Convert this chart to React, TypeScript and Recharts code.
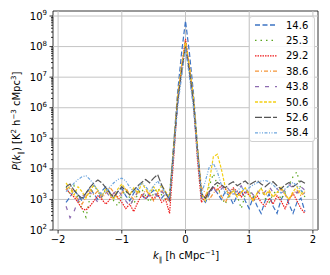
import React from 'react';
import { LineChart, Line, XAxis, YAxis, ReferenceLine, ReferenceArea } from 'recharts';

// k_parallel sample points (h cMpc^-1)
const kValues = [
  -1.875, -1.8125, -1.75, -1.6875, -1.625, -1.5625, -1.5, -1.4375, -1.375, -1.3125,
  -1.25, -1.1875, -1.125, -1.0625, -1.0, -0.9375, -0.875, -0.8125, -0.75, -0.6875,
  -0.625, -0.5625, -0.5, -0.4375, -0.375, -0.3125, -0.25, -0.1875, -0.125, -0.0625,
  0, 0.0625, 0.125, 0.1875, 0.25, 0.3125, 0.375, 0.4375, 0.5, 0.5625,
  0.625, 0.6875, 0.75, 0.8125, 0.875, 0.9375, 1.0, 1.0625, 1.125, 1.1875,
  1.25, 1.3125, 1.375, 1.4375, 1.5, 1.5625, 1.625, 1.6875, 1.75, 1.8125, 1.875,
];

const p146 = [
  8e2, 1.2e3, 2.0e3, 1.4e3, 9e2, 1.6e3, 2.4e3, 1.5e3, 1.0e3, 1.9e3,
  2.6e3, 1.7e3, 1.1e3, 1.8e3, 2.3e3, 1.3e3, 9e2, 1.6e3, 2.2e3, 1.4e3,
  1.0e3, 1.5e3, 2.0e3, 1.3e3, 1.1e3, 1.6e3, 1.0e3, 6e4, 3e6, 6e7,
  7e8, 6e7, 3e6, 6e4, 1.2e3, 8e2, 1.5e3, 2.5e3, 1.6e3, 1.0e3,
  1.8e3, 1.3e3, 7e2, 1.4e3, 2.0e3, 9e2, 5e2, 1.2e3, 6e2, 3.5e2,
  9e2, 1.5e3, 6e2, 3.5e2, 1.0e3, 1.6e3, 7e2, 3.5e2, 8e2, 1.1e3, 4e2,
];
const p253 = [
  2.5e3, 1.5e3, 2.8e3, 1.0e3, 5e2, 2.6e2, 1.2e3, 3.0e3, 1.8e3, 1.2e3,
  2.2e3, 1.5e3, 9e2, 6e2, 1.4e3, 2.0e3, 1.1e3, 7e2, 1.5e3, 2.2e3,
  1.3e3, 8e2, 1.6e3, 2.4e3, 1.4e3, 1.0e3, 1.8e3, 3e4, 1.5e6, 1.5e7,
  1.6e8, 1.5e7, 1.5e6, 3e4, 1.4e3, 1.0e3, 2.8e3, 7e3, 3.0e3, 1.2e3,
  7e2, 1.5e3, 2.2e3, 1.3e3, 5e2, 1.4e3, 2.0e3, 1.2e3, 1.6e3, 2.3e3,
  1.1e3, 8e2, 1.5e3, 2.0e3, 1.0e3, 1.8e3, 3.0e3, 5.5e3, 8e3, 2.0e3, 1.2e3,
];
const p292 = [
  2.2e3, 1.6e3, 1.2e3, 8e2, 5e2, 4.5e2, 6e2, 9e2, 1.3e3, 1.0e3,
  7e2, 1.0e3, 1.6e3, 1.2e3, 8e2, 5e2, 7e2, 4e2, 8e2, 1.4e3,
  1.1e3, 1.5e3, 1.0e3, 1.6e3, 8e2, 1.0e3, 3.5e2, 2e4, 1.5e6, 2e7,
  1.8e8, 2e7, 1.5e6, 2e4, 8e2, 1.3e3, 1.8e3, 2.5e3, 2.0e3, 2.8e3,
  2.2e3, 1.6e3, 2.4e3, 1.8e3, 1.2e3, 1.8e3, 1.4e3, 9e2, 1.3e3, 8e2,
  6e2, 1.1e3, 7e2, 1.3e3, 9e2, 5e2, 1.0e3, 1.6e3, 9e2, 5e2, 3.5e2,
];
const p386 = [
  2.0e3, 2.8e3, 1.5e3, 1.0e3, 7e2, 1.2e3, 2.2e3, 1.4e3, 1.9e3, 1.1e3,
  1.6e3, 2.5e3, 1.7e3, 1.1e3, 1.6e3, 2.4e3, 1.4e3, 1.0e3, 1.9e3, 1.3e3,
  2.0e3, 1.4e3, 9e2, 1.5e3, 2.1e3, 1.2e3, 8e2, 4e4, 2e6, 2e7,
  1.6e8, 2e7, 2e6, 4e4, 2.5e3, 1.6e3, 1.0e3, 1.6e3, 2.2e3, 1.3e3,
  8e2, 1.4e3, 2.0e3, 1.2e3, 1.7e3, 2.3e3, 1.5e3, 1.0e3, 1.6e3, 2.1e3,
  1.3e3, 1.8e3, 1.2e3, 1.6e3, 2.2e3, 1.4e3, 1.0e3, 1.5e3, 2.0e3, 1.3e3, 1.7e3,
];
const p438 = [
  6e2, 2.5e2, 4e2, 9e2, 1.5e3, 1.1e3, 1.7e3, 1.2e3, 8e2, 1.3e3,
  1.9e3, 1.2e3, 1.6e3, 2.1e3, 1.3e3, 9e2, 6e2, 1.1e3, 1.7e3, 1.2e3,
  1.9e3, 1.3e3, 1.7e3, 1.2e3, 1.8e3, 1.4e3, 9e2, 3e4, 1.2e6, 1.2e7,
  1.1e8, 1.2e7, 1.2e6, 3e4, 1.5e3, 1.1e3, 1.8e3, 2.4e3, 1.6e3, 2.2e3,
  3.0e3, 2.0e3, 1.4e3, 2.2e3, 2.8e3, 1.6e3, 2.2e3, 1.4e3, 2.0e3, 1.3e3,
  1.8e3, 2.6e3, 1.7e3, 2.3e3, 1.5e3, 2.1e3, 3.0e3, 2.4e3, 1.6e3, 2.6e3, 2.0e3,
];
const p506 = [
  3.5e3, 2.2e3, 1.4e3, 2.6e3, 1.8e3, 1.1e3, 1.9e3, 3.0e3, 2.0e3, 1.3e3,
  2.3e3, 1.5e3, 1.0e3, 2.2e3, 3.2e3, 2.1e3, 1.4e3, 2.4e3, 1.6e3, 3.4e3,
  2.2e3, 1.5e3, 2.6e3, 1.7e3, 2.9e3, 1.8e3, 1.2e3, 5e4, 2e6, 2.2e7,
  1.3e8, 2.2e7, 2e6, 5e4, 1.6e3, 9e2, 4e3, 2.5e4, 3e4, 1.0e4,
  2.5e3, 1.3e3, 2.0e3, 1.2e3, 1.7e3, 2.4e3, 1.4e3, 9e2, 1.6e3, 2.3e3,
  1.4e3, 2.0e3, 1.2e3, 1.7e3, 2.5e3, 1.5e3, 1.0e3, 1.8e3, 2.6e3, 1.5e3, 1.9e3,
];
const p526 = [
  2.6e3, 3.2e3, 2.0e3, 1.4e3, 1.1e3, 1.6e3, 2.5e3, 3.5e3, 4.3e3, 3.5e3,
  2.4e3, 1.6e3, 1.2e3, 1.8e3, 2.6e3, 1.9e3, 1.4e3, 2.0e3, 2.8e3, 3.6e3,
  4.5e3, 3.5e3, 5.0e3, 6.5e3, 3.0e3, 1.6e3, 1.0e3, 4e4, 1.5e6, 1.5e7,
  1.0e8, 1.5e7, 1.5e6, 4e4, 1.6e3, 1.1e3, 1.8e3, 2.8e3, 3.6e3, 3.0e3,
  2.4e3, 3.2e3, 3.8e3, 2.8e3, 3.4e3, 4.0e3, 3.0e3, 3.6e3, 4.2e3, 3.2e3,
  2.6e3, 3.4e3, 3.8e3, 2.8e3, 2.2e3, 3.0e3, 3.6e3, 2.6e3, 3.2e3, 4.0e3, 3.4e3,
];
const p584 = [
  1.8e3, 2.4e3, 3.4e3, 4.5e3, 5.5e3, 6e3, 4.5e3, 3.0e3, 2.0e3, 1.4e3,
  1.8e3, 2.6e3, 3.5e3, 4.5e3, 5e3, 4e3, 2.5e3, 1.8e3, 2.4e3, 3.5e3,
  2.6e3, 1.8e3, 2.8e3, 4e3, 2.5e3, 1.6e3, 1.2e3, 3e4, 1.0e6, 1.0e7,
  9e7, 1.0e7, 1.0e6, 3e4, 1.5e3, 4e3, 1.2e4, 1.5e4, 8e3, 3e3,
  1.6e3, 2.2e3, 1.4e3, 1.9e3, 2.6e3, 1.8e3, 2.4e3, 3.0e3, 3.5e3, 4.0e3,
  4.2e3, 3.8e3, 3.0e3, 2.2e3, 1.6e3, 2.2e3, 2.8e3, 3.6e3, 2.8e3, 2.0e3, 1.5e3,
];

const seriesNames = ['14.6', '25.3', '29.2', '38.6', '43.8', '50.6', '52.6', '58.4'];
const seriesValues = [p146, p253, p292, p386, p438, p506, p526, p584];
const seriesColors = ['#3d74c4', '#5aa51e', '#ee1c1c', '#f59538', '#8d6bb0', '#f3cf14', '#555555', '#6ea6de'];
const seriesDash = ['5 2.5', '1.5 4', '1.5 1', '4 2 1 2', '4 6', '3 1.5', '7 2', '3 1.5 1 1.5 1 1.5'];

const xTicks = [-2, -1, 0, 1, 2];
const yMajorTicks = [1e2, 1e3, 1e4, 1e5, 1e6, 1e7, 1e8, 1e9];
const yMinorTicks: number[] = [];
yMajorTicks.slice(0, -1).forEach((d) => {
  for (let m = 2; m <= 9; m++) yMinorTicks.push(d * m);
});

const data = kValues.map((k, i) => {
  const row: Record<string, number> = { k };
  seriesNames.forEach((name, s) => {
    row[name] = seriesValues[s][i];
  });
  return row;
});

const FONT = '"DejaVu Sans", sans-serif';
const PLOT_LEFT = 53;

const LogTick = (props: any) => {
  const { y, payload } = props;
  const v = payload.value;
  const e = Math.round(Math.log10(v));
  const major = Math.abs(Math.log10(v) - e) < 1e-6;
  return (
    <g>
      <line x1={PLOT_LEFT} x2={major ? PLOT_LEFT - 3.5 : PLOT_LEFT - 2} y1={y} y2={y} stroke="#000" strokeWidth={0.8} />
      {major && (
        <text x={PLOT_LEFT - 6} y={y + 3.5} textAnchor="end" fontSize={10} fill="#000" style={{ fontFamily: FONT }}>
          10<tspan dy={-4.5} fontSize={7}>{e}</tspan>
        </text>
      )}
    </g>
  );
};

const Legend = () => (
  <div
    style={{
      position: 'absolute',
      left: 249,
      top: 16,
      width: 66,
      height: 126,
      border: '1px solid #d0d0d0',
      borderRadius: 3,
      background: 'rgba(255,255,255,0.85)',
      boxSizing: 'border-box',
    }}
  >
    <svg width={66} height={126} style={{ position: 'absolute', left: -1, top: -1 }}>
      {seriesNames.map((name, i) => {
        const y = 9 + i * 15.4;
        return (
          <g key={name}>
            <line x1={6} x2={28} y1={y} y2={y} stroke={seriesColors[i]} strokeWidth={1.3} strokeDasharray={seriesDash[i]} />
            <text x={37} y={y + 3.6} fontSize={10} fill="#000" style={{ fontFamily: FONT }}>
              {name}
            </text>
          </g>
        );
      })}
    </svg>
  </div>
);

const App: React.FC = () => {
  return (
    <div style={{ position: 'absolute', left: 0, top: 0, width: 330, height: 275, background: '#fff', fontFamily: FONT }}>
      <LineChart width={330} height={275} data={data} margin={{ top: 11, right: 12, left: 0, bottom: 0 }}>
        <XAxis
          dataKey="k"
          type="number"
          domain={[-2.08, 2.08]}
          ticks={xTicks}
          allowDataOverflow
          height={45}
          axisLine={false}
          tickSize={3.5}
          tickLine={{ stroke: '#000', strokeWidth: 0.8 }}
          tick={{ fill: '#000', fontSize: 10, fontFamily: FONT }}
          tickFormatter={(v) => String(v).replace('-', '\u2212')}
          label={{
            content: () => (
              <text x={186} y={259} textAnchor="middle" fontSize={10} fill="#000" style={{ fontFamily: FONT }}>
                <tspan fontStyle="italic">k</tspan>
                <tspan dy={3} fontSize={7}>∥</tspan>
                <tspan dy={-3}> [h cMpc</tspan>
                <tspan dy={-4.5} fontSize={7}>−1</tspan>
                <tspan dy={4.5}>]</tspan>
              </text>
            ),
          }}
        />
        <YAxis
          scale="log"
          domain={[100, 1.46e9]}
          allowDataOverflow
          ticks={[...yMajorTicks, ...yMinorTicks]}
          interval={0}
          width={53}
          axisLine={false}
          tickLine={false}
          tick={<LogTick />}
          label={{
            content: () => (
              <text
                x={20}
                y={121}
                transform="rotate(-90 20 121)"
                textAnchor="middle"
                fontSize={10}
                fill="#000"
                style={{ fontFamily: FONT }}
              >
                <tspan fontStyle="italic">P</tspan>
                <tspan>(</tspan>
                <tspan fontStyle="italic">k</tspan>
                <tspan dy={3} fontSize={7}>∥</tspan>
                <tspan dy={-3}>) [K</tspan>
                <tspan dy={-4.5} fontSize={7}>2</tspan>
                <tspan dy={4.5}> h</tspan>
                <tspan dy={-4.5} fontSize={7}>−3</tspan>
                <tspan dy={4.5}> cMpc</tspan>
                <tspan dy={-4.5} fontSize={7}>3</tspan>
                <tspan dy={4.5}>]</tspan>
              </text>
            ),
          }}
        />
        {yMajorTicks.map((t) => (
          <ReferenceLine key={'gy' + t} y={t} stroke="#c4c4c4" strokeWidth={1} />
        ))}
        {xTicks.map((t) => (
          <ReferenceLine key={'gx' + t} x={t} stroke="#c4c4c4" strokeWidth={1} />
        ))}
        {seriesNames.map((name, i) => (
          <Line
            key={name}
            dataKey={name}
            type="linear"
            stroke={seriesColors[i]}
            strokeWidth={1.2}
            strokeDasharray={seriesDash[i]}
            dot={false}
            isAnimationActive={false}
          />
        ))}
        <ReferenceArea x1={-2.08} x2={2.08} y1={100} y2={1.46e9} fill="none" stroke="#000" strokeWidth={0.8} />
      </LineChart>
      <Legend />
    </div>
  );
};

export default App;
